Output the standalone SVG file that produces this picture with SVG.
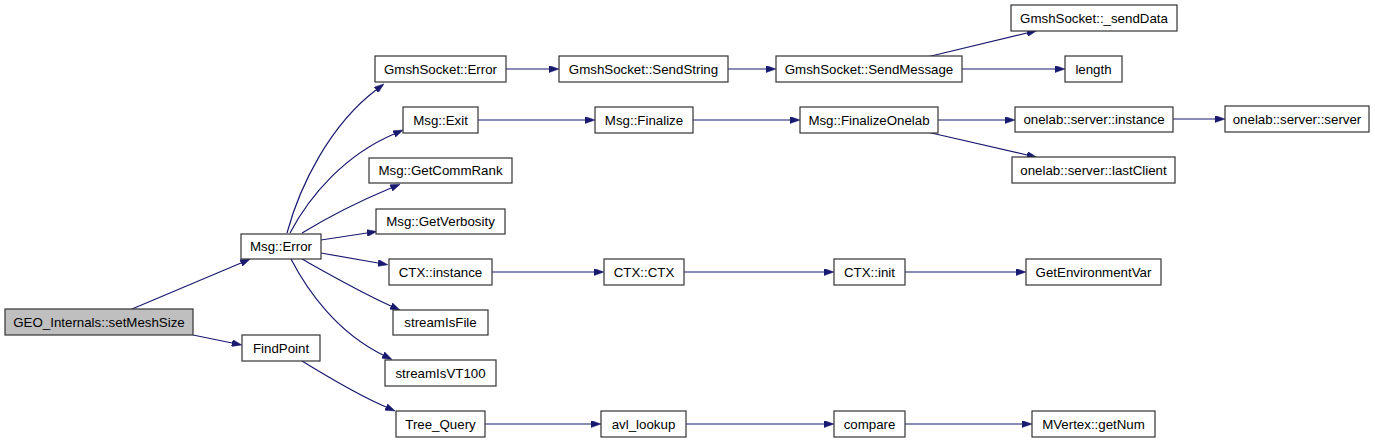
<svg xmlns="http://www.w3.org/2000/svg" width="1375" height="443" viewBox="0 0 1375 443">
<style>
.n rect{fill:#ffffff;stroke:#333333;stroke-width:1.2}
.n.root rect{fill:#bfbfbf}
.n text{font-family:"Liberation Sans",Arial,Helvetica,sans-serif;font-size:13.3px;fill:#000000;text-anchor:middle}
.e path{fill:none;stroke:#191970;stroke-width:1.2;marker-end:url(#ah)}
</style>
<defs>
<marker id="ah" viewBox="0 0 10 7" refX="0" refY="3.5" markerWidth="10" markerHeight="7" markerUnits="userSpaceOnUse" orient="auto">
<path d="M0,0 L10,3.5 L0,7 z" fill="#191970" stroke="#191970" stroke-width="0.5"/>
</marker>
</defs>
<rect width="1375" height="443" fill="#ffffff"/>
<g id="edges" class="e">
<path d="M132,309 L241,263"/>
<path d="M193,335 L232,343"/>
<path d="M302,361 C328,377 358,395 386,407"/>
<path d="M287,233 C300,185 330,125 376,90"/>
<path d="M290,233 C310,195 345,155 394,134"/>
<path d="M302,233 C325,219 355,203 391,188"/>
<path d="M321,240 L367,233"/>
<path d="M321,253 L378,263"/>
<path d="M302,259 C327,273 358,291 391,306"/>
<path d="M291,259 C308,292 338,333 383,355"/>
<path d="M506,69 L549,69"/>
<path d="M728,69 L766,69"/>
<path d="M927,57 L1027,33"/>
<path d="M962,69 L1055,69"/>
<path d="M478,120 L585,120"/>
<path d="M693,120 L790,120"/>
<path d="M938,120 L1005,120"/>
<path d="M927,132 L1027,155"/>
<path d="M1173,119 L1215,119"/>
<path d="M492,272 L594,272"/>
<path d="M684,272 L824,272"/>
<path d="M905,272 L1016,272"/>
<path d="M485,424 L591,424"/>
<path d="M686,424 L824,424"/>
<path d="M905,424 L1022,424"/>
</g>
<g id="n_geo" class="n root"><rect x="5" y="309" width="188" height="26"/><text x="99" y="326.5">GEO_Internals::setMeshSize</text></g>
<g id="n_msgerror" class="n"><rect x="241" y="234" width="80" height="25"/><text x="281" y="251">Msg::Error</text></g>
<g id="n_findpoint" class="n"><rect x="242" y="335" width="78" height="26"/><text x="281" y="352.5">FindPoint</text></g>
<g id="n_gserror" class="n"><rect x="375" y="56" width="131" height="26"/><text x="440.5" y="73.5">GmshSocket::Error</text></g>
<g id="n_sendstring" class="n"><rect x="559" y="56" width="169" height="26"/><text x="643.5" y="73.5">GmshSocket::SendString</text></g>
<g id="n_sendmessage" class="n"><rect x="776" y="56" width="186" height="26"/><text x="869" y="73.5">GmshSocket::SendMessage</text></g>
<g id="n_senddata" class="n"><rect x="1011" y="5" width="166" height="26"/><text x="1094" y="22.5">GmshSocket::_sendData</text></g>
<g id="n_length" class="n"><rect x="1065" y="56" width="57" height="26"/><text x="1093.5" y="73.5">length</text></g>
<g id="n_exit" class="n"><rect x="403" y="107" width="75" height="26"/><text x="440.5" y="124.5">Msg::Exit</text></g>
<g id="n_finalize" class="n"><rect x="595" y="107" width="98" height="26"/><text x="644" y="124.5">Msg::Finalize</text></g>
<g id="n_finalizeonelab" class="n"><rect x="800" y="107" width="138" height="26"/><text x="869" y="124.5">Msg::FinalizeOnelab</text></g>
<g id="n_olinstance" class="n"><rect x="1015" y="107" width="158" height="25"/><text x="1094" y="124">onelab::server::instance</text></g>
<g id="n_olserver" class="n"><rect x="1225" y="106" width="144" height="26"/><text x="1297" y="123.5">onelab::server::server</text></g>
<g id="n_ollastclient" class="n"><rect x="1012" y="157" width="163" height="26"/><text x="1093.5" y="174.5">onelab::server::lastClient</text></g>
<g id="n_getcommrank" class="n"><rect x="369" y="158" width="143" height="25"/><text x="440.5" y="175">Msg::GetCommRank</text></g>
<g id="n_getverbosity" class="n"><rect x="376" y="209" width="129" height="25"/><text x="440.5" y="226">Msg::GetVerbosity</text></g>
<g id="n_ctxinstance" class="n"><rect x="389" y="259" width="103" height="26"/><text x="440.5" y="276.5">CTX::instance</text></g>
<g id="n_ctxctx" class="n"><rect x="604" y="259" width="80" height="26"/><text x="644" y="276.5">CTX::CTX</text></g>
<g id="n_ctxinit" class="n"><rect x="834" y="259" width="71" height="26"/><text x="869.5" y="276.5">CTX::init</text></g>
<g id="n_getenv" class="n"><rect x="1026" y="259" width="135" height="26"/><text x="1093.5" y="276.5">GetEnvironmentVar</text></g>
<g id="n_streamisfile" class="n"><rect x="393" y="310" width="95" height="25"/><text x="440.5" y="327">streamIsFile</text></g>
<g id="n_streamisvt100" class="n"><rect x="385" y="360" width="111" height="26"/><text x="440.5" y="377.5">streamIsVT100</text></g>
<g id="n_treequery" class="n"><rect x="396" y="411" width="89" height="26"/><text x="440.5" y="428.5">Tree_Query</text></g>
<g id="n_avllookup" class="n"><rect x="601" y="411" width="85" height="26"/><text x="643.5" y="428.5">avl_lookup</text></g>
<g id="n_compare" class="n"><rect x="834" y="411" width="71" height="26"/><text x="869.5" y="428.5">compare</text></g>
<g id="n_getnum" class="n"><rect x="1032" y="411" width="123" height="26"/><text x="1093.5" y="428.5">MVertex::getNum</text></g>
</svg>
